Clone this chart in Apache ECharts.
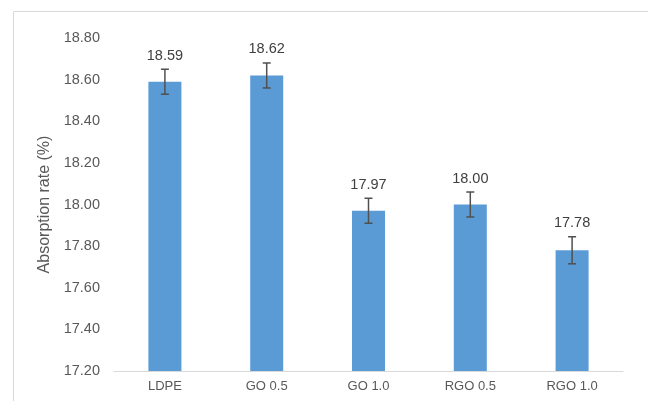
<!DOCTYPE html>
<html><head><meta charset="utf-8">
<script src="https://cdn.jsdelivr.net/npm/echarts@6/dist/echarts.min.js"></script>
<style>html,body{margin:0;padding:0;background:#fff}#c{width:648px;height:401px}</style>
</head><body><div id="c"></div>
<script>
var categories = ['LDPE', 'GO 0.5', 'GO 1.0', 'RGO 0.5', 'RGO 1.0'];
var values = [18.59, 18.62, 17.97, 18.00, 17.78];
var errors = [0.06, 0.06, 0.06, 0.06, 0.065];
var yTitle = 'Absorption rate (%)';

var chart = echarts.init(document.getElementById('c'));
var font = 'Liberation Sans';
var errData = values.map(function (v, i) { return [i, v - errors[i], v + errors[i], v]; });
chart.setOption({
  animation: false,
  backgroundColor: '#fff',
  graphic: [{ type: 'rect', shape: { x: 13.5, y: 11.5, width: 700, height: 500 }, style: { fill: 'none', stroke: '#d9d9d9', lineWidth: 1 } }],
  grid: { left: 114, right: 25, top: 38, bottom: 30 },
  xAxis: {
    type: 'category', data: categories,
    axisLine: { lineStyle: { color: '#d9d9d9', width: 1 } },
    axisTick: { show: false },
    axisLabel: { color: '#595959', fontSize: 13, fontFamily: font, margin: 9 }
  },
  yAxis: {
    type: 'value', min: 17.2, max: 18.8, interval: 0.2,
    name: yTitle, nameLocation: 'middle', nameGap: 61, nameRotate: 90,
    nameTextStyle: { color: '#595959', fontSize: 16, fontFamily: font },
    axisLine: { show: false }, axisTick: { show: false }, splitLine: { show: false },
    axisLabel: { color: '#595959', fontSize: 14.5, fontFamily: font, margin: 14,
      formatter: function (v) { return v.toFixed(2); } }
  },
  series: [{
    type: 'bar', data: values, barWidth: 33, itemStyle: { color: '#5b9bd5' }
  }, {
    type: 'custom', data: errData, z: 10,
    renderItem: function (params, api) {
      var x = api.value(0);
      var lo = api.coord([x, api.value(1)]);
      var hi = api.coord([x, api.value(2)]);
      var w = 4;
      var st = { stroke: '#505050', lineWidth: 1.5 };
      return { type: 'group', children: [
        { type: 'line', shape: { x1: hi[0], y1: hi[1], x2: lo[0], y2: lo[1] }, style: st },
        { type: 'line', shape: { x1: hi[0] - w, y1: hi[1], x2: hi[0] + w, y2: hi[1] }, style: st },
        { type: 'line', shape: { x1: lo[0] - w, y1: lo[1], x2: lo[0] + w, y2: lo[1] }, style: st },
        { type: 'text', style: { text: api.value(3).toFixed(2), x: hi[0], y: hi[1] - 6,
          textAlign: 'center', textVerticalAlign: 'bottom', fill: '#404040', fontSize: 14.5, fontFamily: font } }
      ] };
    }
  }]
});
</script></body></html>
